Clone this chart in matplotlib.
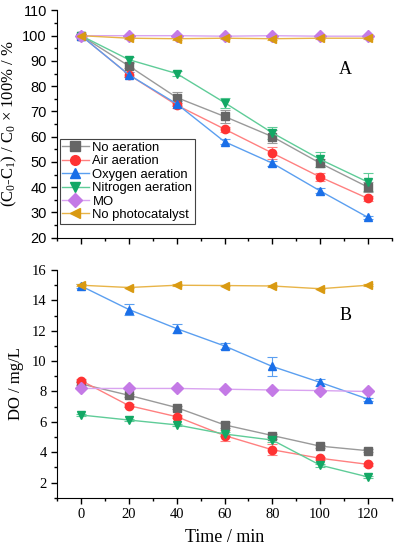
import numpy as np
import matplotlib
matplotlib.use("Agg")
import matplotlib.pyplot as plt
from matplotlib.ticker import MultipleLocator
from matplotlib.lines import Line2D

plt.rcParams['mathtext.fontset'] = 'stix'
plt.rcParams['mathtext.default'] = 'regular'

time = [0, 20, 40, 60, 80, 100, 120]
labels = ['No aeration', 'Air aeration', 'Oxygen aeration', 'Nitrogen aeration', 'MO', 'No photocatalyst']
markers = ['s', 'o', '^', 'v', 'D', '<']
mcolors = ['#666666', '#ff3333', '#1a6fe8', '#13a865', '#c47ae6', '#d99a12']
lcolors = ['#9a9a9a', '#ff8080', '#5b9ff0', '#5fcc98', '#d9a3f0', '#e8b448']

# panel A: removal (%)
rem_none = [100, 88, 75.5, 68, 60, 49.5, 40]
rem_air = [100, 84.5, 72.5, 63, 53.5, 44, 35.5]
rem_oxy = [100, 84.5, 73, 58, 49.5, 38.5, 28]
rem_nit = [100, 90.5, 85, 73.5, 61.5, 51, 42]
rem_mo = [100, 100, 100, 99.8, 100, 99.8, 99.8]
rem_nocat = [100, 99, 98.8, 99, 98.8, 99, 99]
err_none = [0.5, 1, 2, 2.5, 2.5, 1.5, 2]
err_air = [0.5, 1, 1, 1, 2.5, 1.5, 1]
err_oxy = [0.5, 1, 1, 1, 1, 1, 0.5]
err_nit = [0.5, 1, 1, 2, 2.5, 3, 3.5]
err_mo = [0.3, 0.3, 0.3, 0.3, 0.3, 0.3, 0.3]
err_nocat = [0.3, 0.5, 0.5, 0.5, 0.5, 0.5, 0.5]

# panel B: dissolved oxygen (mg/L)
do_none = [8.5, 7.75, 6.94, 5.8, 5.1, 4.4, 4.1]
do_air = [8.72, 7.07, 6.34, 5.1, 4.16, 3.6, 3.2]
do_oxy = [14.95, 13.4, 12.14, 11.0, 9.65, 8.6, 7.5]
do_nit = [6.45, 6.12, 5.8, 5.2, 4.8, 3.15, 2.37]
do_mo = [8.2, 8.2, 8.2, 8.15, 8.1, 8.06, 8.0]
do_nocat = [15.0, 14.85, 15.0, 14.98, 14.95, 14.77, 15.0]
doerr_none = [0.1, 0.1, 0.1, 0.2, 0.1, 0.1, 0.1]
doerr_air = [0.1, 0.1, 0.1, 0.35, 0.35, 0.1, 0.1]
doerr_oxy = [0.1, 0.35, 0.3, 0.2, 0.6, 0.25, 0.1]
doerr_nit = [0.05, 0.05, 0.05, 0.1, 0.1, 0.1, 0.05]
doerr_mo = [0.05] * 7
doerr_nocat = [0.05] * 7

remA = [rem_none, rem_air, rem_oxy, rem_nit, rem_mo, rem_nocat]
errA = [err_none, err_air, err_oxy, err_nit, err_mo, err_nocat]
doB = [do_none, do_air, do_oxy, do_nit, do_mo, do_nocat]
errB = [doerr_none, doerr_air, doerr_oxy, doerr_nit, doerr_mo, doerr_nocat]

fig = plt.figure(figsize=(3.97, 5.5), dpi=100)
axA = fig.add_axes([0.144, 0.568, 0.843, 0.413])
axB = fig.add_axes([0.144, 0.095, 0.843, 0.414])

sans = 'Liberation Sans'
serif = 'Liberation Serif'

for i in range(6):
    axA.errorbar(time, remA[i], yerr=errA[i], color=lcolors[i], lw=1, capsize=3.5,
                 elinewidth=0.8, capthick=0.8, marker=markers[i], ms=6,
                 mfc=mcolors[i], mec=mcolors[i], zorder=3)
    axB.errorbar(time, doB[i], yerr=errB[i], color=lcolors[i], lw=1, capsize=3.5,
                 elinewidth=0.8, capthick=0.8, marker=markers[i], ms=6,
                 mfc=mcolors[i], mec=mcolors[i], zorder=3)

for ax in (axA, axB):
    ax.spines['top'].set_visible(False)
    ax.spines['right'].set_visible(False)
    ax.set_xlim(-10, 130)
    ax.xaxis.set_major_locator(MultipleLocator(20))
    ax.xaxis.set_minor_locator(MultipleLocator(10))
    ax.tick_params(which='major', direction='out', length=4, width=1)
    ax.tick_params(which='minor', direction='out', length=2.5, width=1)

axA.set_ylim(20, 110)
axA.yaxis.set_major_locator(MultipleLocator(10))
axA.yaxis.set_minor_locator(MultipleLocator(5))
axA.set_xticklabels([])
for t in axA.get_yticklabels():
    t.set_fontfamily(sans)
    t.set_fontsize(10.5)
axA.set_ylabel(r'(C$_0$-C$_1$) / C$_0$ × 100% / %', fontfamily=serif, fontsize=12, labelpad=2)
axA.text(108, 85, 'A', fontfamily=serif, fontsize=13)
handles = [Line2D([], [], color=lcolors[i], lw=1, marker=markers[i], ms=7,
                  mfc=mcolors[i], mec=mcolors[i]) for i in range(6)]
leg = axA.legend(handles, labels, loc='lower left', bbox_to_anchor=(0.0, 0.05),
                 prop={'family': sans, 'size': 9.4}, handlelength=2.0, handletextpad=0.3,
                 labelspacing=0.1, borderpad=0.2, borderaxespad=0.2,
                 fancybox=False, framealpha=1)
leg.get_frame().set_edgecolor('#444444')
leg.get_frame().set_linewidth(0.8)

axB.set_ylim(1, 16)
axB.set_yticks([2, 4, 6, 8, 10, 12, 14, 16])
axB.yaxis.set_minor_locator(MultipleLocator(1))
for t in axB.get_yticklabels() + axB.get_xticklabels():
    t.set_fontfamily(serif)
    t.set_fontsize(10.5)
axB.set_ylabel('DO / mg/L', fontfamily=serif, fontsize=12, labelpad=6)
axB.set_xlabel('Time / min', fontfamily=serif, fontsize=13, labelpad=6)
axB.text(108, 12.7, 'B', fontfamily=serif, fontsize=13)

fig.savefig('out.png', dpi=100)
